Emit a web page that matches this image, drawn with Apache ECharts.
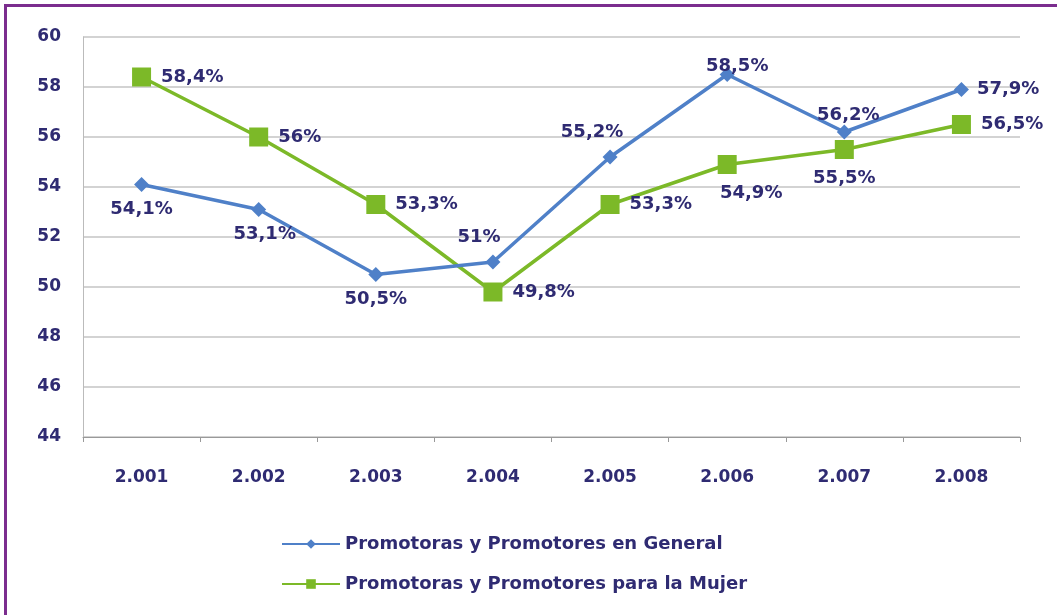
<!DOCTYPE html>
<html>
<head>
<meta charset="utf-8">
<script src="https://cdn.jsdelivr.net/npm/echarts@6/dist/echarts.min.js"></script>
<style>
    html, body { margin: 0; padding: 0; background: #fff; }
    #main { width: 1057px; height: 615px; }
</style>
</head>
<body>
<div id="main"></div>
<script>
var years = ['2.001', '2.002', '2.003', '2.004', '2.005', '2.006', '2.007', '2.008'];
var general = [54.1, 53.1, 50.5, 51, 55.2, 58.5, 56.2, 57.9];
var mujer = [58.4, 56, 53.3, 49.8, 53.3, 54.9, 55.5, 56.5];
var generalPos = ['bottom', 'bottom', 'bottom', 'top', 'top', 'top', 'top', 'right'];
var mujerPos = ['right', 'right', 'right', 'right', 'right', 'bottom', 'bottom', 'right'];

var textColor = '#2f2b72';

function pct(v) {
    return String(v).replace('.', ',') + '%';
}

function withLabels(values, positions) {
    return values.map(function (v, i) {
        return { value: v, label: { position: positions[i] } };
    });
}

var generalData = withLabels(general, generalPos);
var mujerData = withLabels(mujer, mujerPos);

// nudge a few labels like in the original picture
generalData[1].label.offset = [6, 0];
generalData[3].label.offset = [-14, 0];
generalData[4].label.offset = [-18, 0];
generalData[5].label.offset = [10, 16];
generalData[6].label.offset = [4, 8];
mujerData[5].label.offset = [24, 0];

var myChart = echarts.init(document.getElementById('main'));

var option = {
    backgroundColor: '#fff',
    textStyle: { fontFamily: 'DejaVu Sans' },
    graphic: [
        { type: 'rect', shape: { x: 4, y: 4, width: 1060, height: 3 }, style: { fill: '#7b2d8e' } },
        { type: 'rect', shape: { x: 4, y: 4, width: 3, height: 620 }, style: { fill: '#7b2d8e' } }
    ],
    grid: { left: 83, right: 37, top: 37, bottom: 178 },
    legend: {
        orient: 'vertical',
        left: 276,
        top: 530,
        itemGap: 22,
        itemWidth: 58,
        itemHeight: 12,
        textStyle: { color: textColor, fontSize: 18, fontWeight: 'bold' },
        data: ['Promotoras y Promotores en General', 'Promotoras y Promotores para la Mujer']
    },
    xAxis: {
        type: 'category',
        data: years,
        axisLine: { lineStyle: { color: '#999' } },
        axisTick: { show: true, lineStyle: { color: '#999' } },
        axisLabel: { color: textColor, fontSize: 17, fontWeight: 'bold', margin: 32 }
    },
    yAxis: {
        type: 'value',
        min: 44,
        max: 60,
        interval: 2,
        axisLine: { show: true, lineStyle: { color: '#bbb' } },
        axisLabel: { color: textColor, fontSize: 17, fontWeight: 'bold', margin: 22 },
        splitLine: { lineStyle: { color: '#c4c4c4', width: 1.5 } }
    },
    series: [
        {
            name: 'Promotoras y Promotores en General',
            type: 'line',
            data: generalData,
            symbol: 'diamond',
            symbolSize: 15,
            color: '#4f80c8',
            lineStyle: { width: 3.5 },
            label: {
                show: true,
                color: textColor,
                fontSize: 18,
                fontWeight: 'bold',
                distance: 8,
                formatter: function (p) { return pct(p.value); }
            },
            z: 3
        },
        {
            name: 'Promotoras y Promotores para la Mujer',
            type: 'line',
            data: mujerData,
            symbol: 'rect',
            symbolSize: 19,
            color: '#7cb928',
            lineStyle: { width: 3.5 },
            label: {
                show: true,
                color: textColor,
                fontSize: 18,
                fontWeight: 'bold',
                distance: 10,
                formatter: function (p) { return pct(p.value); }
            },
            z: 2
        }
    ]
};

myChart.setOption(option);
</script>
</body>
</html>
